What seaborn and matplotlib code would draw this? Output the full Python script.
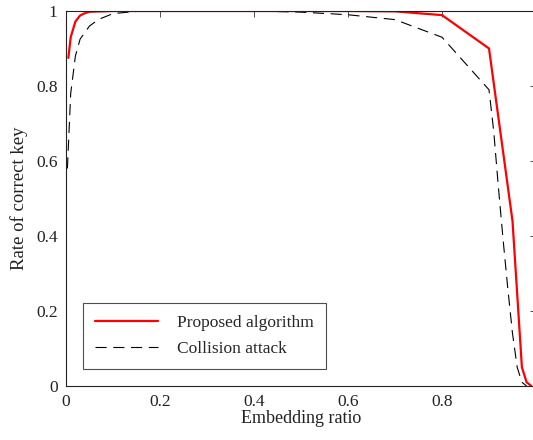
import matplotlib
matplotlib.use("Agg")
import matplotlib.pyplot as plt
import seaborn as sns
import pandas as pd

# Proposed algorithm
prop_x = [0.005, 0.01, 0.02, 0.03, 0.04, 0.05, 0.1, 0.2, 0.3, 0.4, 0.5, 0.6, 0.7, 0.8, 0.9, 0.95, 0.97, 0.98, 0.99]
prop_y = [0.875, 0.93, 0.972, 0.988, 0.994, 0.998, 1.0, 1.0, 1.0, 1.0, 1.0, 1.0, 0.999, 0.989, 0.90, 0.44, 0.05, 0.01, 0.0]

# Collision attack
coll_x = [0.003, 0.01, 0.02, 0.03, 0.05, 0.07, 0.1, 0.15, 0.2, 0.3, 0.4, 0.5, 0.6, 0.7, 0.8, 0.9,
          0.91, 0.92, 0.93, 0.94, 0.95, 0.96, 0.97, 0.98]
coll_y = [0.58, 0.78, 0.88, 0.925, 0.96, 0.978, 0.993, 0.999, 1.0, 1.0, 1.0, 0.997, 0.99, 0.977, 0.93, 0.79,
          0.68, 0.53, 0.39, 0.26, 0.14, 0.05, 0.01, 0.0]

xticks = [0, 0.2, 0.4, 0.6, 0.8, 1]
xtick_labels = ["0", "0.2", "0.4", "0.6", "0.8", ""]
yticks = [0, 0.2, 0.4, 0.6, 0.8, 1]
ytick_labels = ["0", "0.2", "0.4", "0.6", "0.8", "1"]

sns.set_theme(style="white")
plt.rcParams['font.family'] = ['Liberation Serif', 'DejaVu Serif']

fig = plt.figure(figsize=(5.33, 4.4), dpi=100)
ax = fig.add_axes([66 / 533, 54 / 440, 470 / 533, 375 / 440])

df_prop = pd.DataFrame({"x": prop_x, "y": prop_y})
df_coll = pd.DataFrame({"x": coll_x, "y": coll_y})

sns.lineplot(data=df_prop, x="x", y="y", ax=ax, color="#ff0000", linewidth=1.6,
             label="Proposed algorithm", sort=False)
sns.lineplot(data=df_coll, x="x", y="y", ax=ax, color="black", linewidth=0.8,
             dashes=False, label="Collision attack", sort=False)
ax.lines[1].set_dashes((10, 6))

ax.set_xlim(0, 1)
ax.set_ylim(0, 1)
ax.set_xticks(xticks)
ax.set_xticklabels(xtick_labels)
ax.set_yticks(yticks)
ax.set_yticklabels(ytick_labels)
ax.tick_params(direction="in", length=4, width=0.6, color="#333333", labelsize=12.5,
               top=True, right=True, labelcolor="#222222", pad=6)

for s in ax.spines.values():
    s.set_color("#222222")
    s.set_linewidth(0.8)

ax.set_xlabel("Embedding ratio", fontsize=13, color="#222222", labelpad=0)
ax.set_ylabel("Rate of correct key", fontsize=13.5, color="#222222", labelpad=6)

leg = ax.legend(loc="lower left", bbox_to_anchor=(0.036, 0.045), borderaxespad=0,
                fontsize=12.5, frameon=True, fancybox=False, handlelength=3.6,
                handletextpad=1.1, borderpad=0.7, labelspacing=0.55)
leg.get_frame().set_edgecolor("#222222")
leg.get_frame().set_linewidth(0.8)

fig.savefig("out.png", dpi=100)
